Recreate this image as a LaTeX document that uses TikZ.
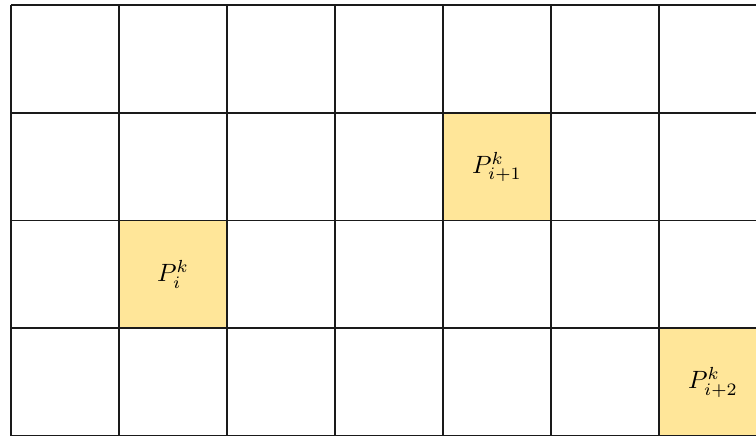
\documentclass[tikz,border=0pt]{standalone}
\usepackage{graphicx}
\usetikzlibrary{positioning}
\definecolor{cellfill}{HTML}{FFE699}
\definecolor{gridline}{HTML}{1A1A1A}
\newcommand{\celltxt}[1]{\scalebox{2.5}{$#1$}}
\tikzset{
  hicell/.style={fill=cellfill, draw=none, minimum width=108pt, minimum height=107.7pt, inner sep=0pt},
  gridl/.style={draw=gridline, line width=1.8pt}
}
\begin{document}
\begin{tikzpicture}[x=1pt,y=-1pt]
\useasboundingbox (0,0) rectangle (756,436);
\begin{scope}
\clip (0,0) rectangle (756,436);
\fill[white] (0,0) rectangle (756,436);
\node[hicell] (pi)  at (173,274.5) {\celltxt{P_{i}^{k}}};
\node[hicell] (pi1) at (497,166.9) {\celltxt{P_{i+1}^{k}}};
\node[hicell] (pi2) at (713,382.2) {\celltxt{P_{i+2}^{k}}};
\foreach \k in {0,...,6} {
  \draw[gridl] (11+108*\k,5) -- (11+108*\k,441);
}
\foreach \k in {0,...,4} {
  \draw[gridl] (11,5+107.7*\k) -- (770,5+107.7*\k);
}
\end{scope}
\end{tikzpicture}
\end{document}
